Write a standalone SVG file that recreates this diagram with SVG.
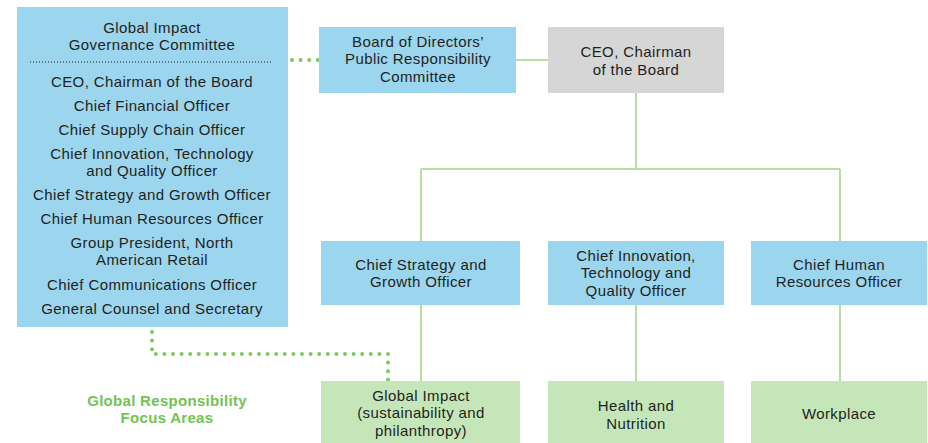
<svg xmlns="http://www.w3.org/2000/svg" width="928" height="443" viewBox="0 0 928 443">
<style>
.blue{fill:#9bd5ee}
.gray{fill:#d6d6d6}
.grn{fill:#c5e6b9}
.t{font-family:"Liberation Sans",Arial,sans-serif;font-size:15px;letter-spacing:0.4px;fill:#231f20;text-anchor:middle}
.lbl{font-family:"Liberation Sans",Arial,sans-serif;font-size:15px;letter-spacing:0.3px;font-weight:bold;fill:#72c452;text-anchor:middle}
.solid{stroke:#b7dea2;stroke-width:2;fill:none}
.dot{stroke:#7ec85c;stroke-width:4;stroke-linecap:round;stroke-dasharray:0 8.6;fill:none}
</style>
<rect width="928" height="443" fill="#fff"/>
<g id="connectors">
<path class="solid" d="M516 60H548"/>
<path class="solid" d="M636 93V169M421 169H840M421 169V241M840 169V241"/>
<path class="solid" d="M421 305V381M636 305V381M840 305V381"/>
<path class="dot" d="M292 60H318"/>
<path class="dot" d="M152 332V354H388V380"/>
</g>
<g id="gigc">
<rect class="blue" x="17" y="7" width="271" height="320"/>
<text class="t" x="152" y="33">Global Impact</text>
<text class="t" x="152" y="50">Governance Committee</text>
<line x1="30" y1="62" x2="273" y2="62" stroke="#231f20" stroke-width="1" stroke-dasharray="1 2"/>
<text class="t" x="152" y="87">CEO, Chairman of the Board</text>
<text class="t" x="152" y="111">Chief Financial Officer</text>
<text class="t" x="152" y="135">Chief Supply Chain Officer</text>
<text class="t" x="152" y="159">Chief Innovation, Technology</text>
<text class="t" x="152" y="176">and Quality Officer</text>
<text class="t" x="152" y="200">Chief Strategy and Growth Officer</text>
<text class="t" x="152" y="224">Chief Human Resources Officer</text>
<text class="t" x="152" y="248">Group President, North</text>
<text class="t" x="152" y="265">American Retail</text>
<text class="t" x="152" y="290">Chief Communications Officer</text>
<text class="t" x="152" y="314">General Counsel and Secretary</text>
</g>
<g id="board">
<rect class="blue" x="319" y="27" width="197" height="66"/>
<text class="t" x="418" y="47">Board of Directors’</text>
<text class="t" x="418" y="64">Public Responsibility</text>
<text class="t" x="418" y="82">Committee</text>
</g>
<g id="ceo">
<rect class="gray" x="548" y="27" width="176" height="66"/>
<text class="t" x="636" y="57">CEO, Chairman</text>
<text class="t" x="636" y="75">of the Board</text>
</g>
<g id="strategy">
<rect class="blue" x="321" y="241" width="199" height="64"/>
<text class="t" x="421" y="270">Chief Strategy and</text>
<text class="t" x="421" y="287">Growth Officer</text>
</g>
<g id="innovation">
<rect class="blue" x="548" y="241" width="176" height="64"/>
<text class="t" x="636" y="261">Chief Innovation,</text>
<text class="t" x="636" y="278">Technology and</text>
<text class="t" x="636" y="296">Quality Officer</text>
</g>
<g id="hr">
<rect class="blue" x="751" y="241" width="176" height="64"/>
<text class="t" x="839" y="270">Chief Human</text>
<text class="t" x="839" y="287">Resources Officer</text>
</g>
<g id="global-impact">
<rect class="grn" x="321" y="381" width="199" height="62"/>
<text class="t" x="421" y="401">Global Impact</text>
<text class="t" x="421" y="418">(sustainability and</text>
<text class="t" x="421" y="436">philanthropy)</text>
</g>
<g id="health">
<rect class="grn" x="548" y="381" width="176" height="62"/>
<text class="t" x="636" y="411">Health and</text>
<text class="t" x="636" y="429">Nutrition</text>
</g>
<g id="workplace">
<rect class="grn" x="751" y="381" width="176" height="62"/>
<text class="t" x="839" y="419">Workplace</text>
</g>
<g id="focus-label">
<text class="lbl" x="167" y="406">Global Responsibility</text>
<text class="lbl" x="167" y="423">Focus Areas</text>
</g>
</svg>
